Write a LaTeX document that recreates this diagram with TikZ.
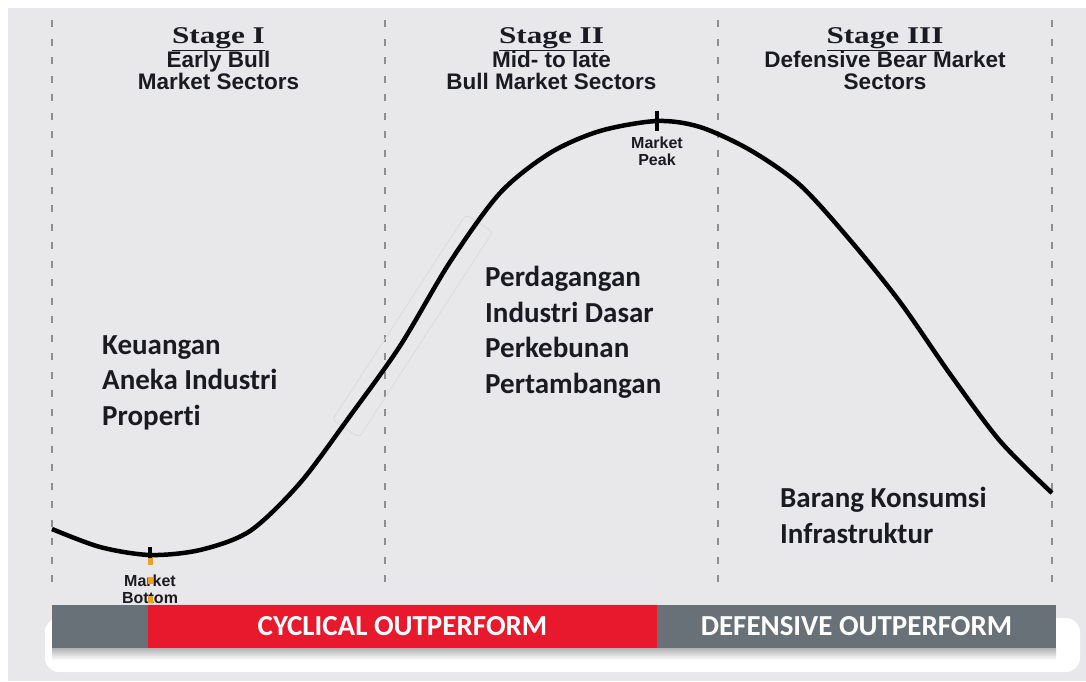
\documentclass[tikz,border=0pt]{standalone}
\usepackage{fontspec}
\setmainfont{Carlito}[Ligatures=NoCommon]
\newfontfamily\arialf{Liberation Sans}
\newfontfamily\stagef[FakeStretch=1.3]{Liberation Serif}
\usetikzlibrary{calc,positioning}
\usepackage{xcolor}
\definecolor{bg}{HTML}{E8E8EA}
\definecolor{ink}{HTML}{1A1A22}
\definecolor{cycred}{HTML}{E8192C}
\definecolor{defgray}{HTML}{687078}
\definecolor{dashgray}{HTML}{8E8E8E}
\definecolor{tickorange}{HTML}{F0A020}

\begin{document}
\begin{tikzpicture}[x=1pt, y=-1pt,
	stage/.style = {inner sep=0, anchor=base, text=ink, font=\stagef\bfseries\fontsize{24}{26}\selectfont},
	sub/.style = {inner sep=0, anchor=base, align=center, text=ink, font=\arialf\bfseries\fontsize{22.5}{22}\selectfont},
	lbl/.style = {inner sep=0, anchor=base west, align=left, text=ink, font=\bfseries\fontsize{29}{35.5}\selectfont},
	mk/.style = {inner sep=0, anchor=base, align=center, text=ink, font=\arialf\bfseries\fontsize{16}{17}\selectfont},
	seg/.style = {inner sep=0, outer sep=0, minimum height=43pt, text=white, font=\bfseries\fontsize{29}{30}\selectfont},
	divider/.style = {dashgray, line width=2pt, dash pattern=on 7pt off 11.5pt}]
		\useasboundingbox (0,0) rectangle (1086,681);
		\fill[white] (0,0) rectangle (1086,681);
		\fill[bg] (8,8) rectangle (1086,681);
		% stage dividers
		\foreach \x in {52,385,718,1052}
			\draw[divider] (\x,20) -- (\x,584);
		% stage headers (base = last line)
		\node[stage] (s1) at (218.5,43) {\underline{Stage I}};
		\node[sub] (h1) at (218.5,89) {Early Bull\\Market Sectors};
		\node[stage] (s2) at (551.5,43) {\underline{Stage II}};
		\node[sub] (h2) at (551.5,89) {Mid- to late\\Bull Market Sectors};
		\node[stage] (s3) at (885,43) {\underline{Stage III}};
		\node[sub] (h3) at (885,89) {Defensive Bear Market\\Sectors};
		% market cycle
		\node[draw=black!14, line width=0.8pt, rounded corners=4pt, minimum width=245pt, minimum height=32pt, inner sep=0, rotate=57] (sel) at (412.5,326) {};
		\draw[line width=4.5pt, black] plot[smooth] coordinates {(52,529) (100,547) (150,555) (200,550) (250,531) (300,483) (350,416) (400,346) (450,262) (500,193) (550,153) (600,131) (657,121) (700,127) (750,150) (800,185) (850,240) (900,302) (950,374) (1000,441) (1052,493)};
		\coordinate (bottom) at (150,555);
		\coordinate (peak) at (657,121);
		\draw[line width=4pt] ($(bottom)+(0,-8)$) -- ($(bottom)+(0,4)$);
		\draw[line width=4pt] ($(peak)+(0,-10)$) -- ($(peak)+(0,10)$);
		\node[mk] (pk) at (657,165) {Market\\Peak};
		\node[mk] (bt) at (150,603) {Market\\Bottom};
		\draw[tickorange, line width=5pt, dash pattern=on 7pt off 12pt] (150,558) -- (150,603);
		% sectors
		\node[lbl] (early) at (102,425) {Keuangan\\Aneka Industri\\Properti};
		\node[lbl] (late) at (485,393) {Perdagangan\\Industri Dasar\\Perkebunan\\Pertambangan};
		\node[lbl] (bear) at (780,543) {Barang Konsumsi\\Infrastruktur};
		% performance bar
		\fill[white, rounded corners=14pt] (45,618) rectangle (1080,672);
		\shade[top color=black!30, bottom color=white] (52,648) rectangle (1056,660);
		\node[seg, fill=defgray, minimum width=96pt] (lead) at (100,626.5) {};
		\node[seg, fill=cycred, minimum width=509pt, right=0pt of lead] (cyc) {CYCLICAL OUTPERFORM};
		\node[seg, fill=defgray, minimum width=399pt, right=0pt of cyc] (def) {DEFENSIVE OUTPERFORM};
	\end{tikzpicture}
\end{document}
